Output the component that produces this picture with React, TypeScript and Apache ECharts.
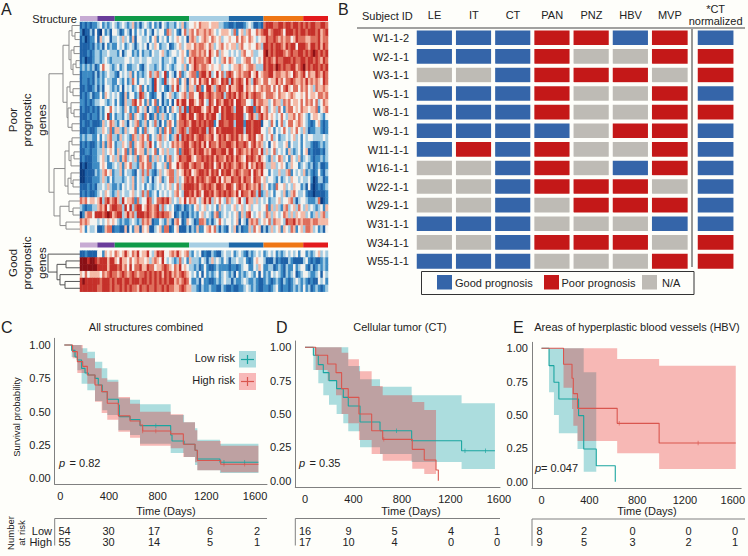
import React, { useEffect, useRef } from "react";
import * as echarts from "echarts";

const FONT = '"Liberation Sans", Arial, sans-serif';
const BG = "#fefefa";

// ---------- Panel A data ----------
const structureNames = ["S1", "S2", "S3", "S4", "S5", "S6", "S7"];
const structureSizes = [7, 7, 30, 16, 14, 16, 10];
const structureColors = ["#c7abd3", "#6a3d9a", "#0f9a48", "#a6cee3", "#1f69a8", "#ef7614", "#e31a1c"];
const heatLevels = ["#0b3a7e", "#1e62a8", "#3d8bc4", "#a2cbe2", "#f4f2ee", "#f4b9a6", "#de6e5c", "#c5302a", "#8a1015"];

const poorGeneRows = [
  "1212122 3423234 323432 352313 432423 143233 243523 4454655545553322 11211123431121 6777667767767767 6767766776",
  "2011314 1042314 431243 142434 243143 442653 421463 5646556565434555 43624535644656 7756777647776767 7677767567",
  "1201224 1534413 343534 251443 342452 434243 454341 5653456546545344 54464654654345 5766765656645766 6556667566",
  "1111213 2314232 243423 431343 414354 233412 345345 5465665465345645 45535644544653 7767677657677477 7657767576",
  "1112123 3233433 324134 423242 332433 453234 434542 5665656475463544 34343564453344 7867677765676677 6767876767",
  "1201123 3234323 333344 343343 344333 423343 244534 6576665674343564 65433456643454 7676576677767667 7677676576",
  "2323231 2464432 342342 233421 343323 423432 344352 4576566545445344 34556545665333 7677687676677567 8676776767",
  "1222213 1323433 214343 524232 346356 347243 146234 5662677573474636 76456566745745 6677566556547656 7465576576",
  "1221213 2324332 243242 364244 343174 327345 462451 5464756747654767 37567647537654 6645575646676556 5756565476",
  "1121123 1314432 324143 423462 423174 342136 473452 5537624775367664 75567746546456 5664646467546646 5645365565",
  "1212312 2425434 342152 442376 342124 413453 234563 6644775676566736 76757657567665 4666546554565445 4645546656",
  "2212123 3443234 242153 367464 252462 413241 475774 7754674376476577 67477664437566 5534655365645546 4656463465",
  "1211212 1324464 343254 232643 514326 231425 436372 7677754675774767 76377746772674 5634536425664546 5545562456",
  "1112122 1324724 233243 625432 641252 353243 246775 7746775767743767 77677734675367 5645434643556465 4324554324",
  "1211211 1253465 324531 435623 524363 142564 256676 5776767677247766 77377727767771 4436424634664565 4321245212",
  "1112112 3354362 553253 446242 634432 526462 356763 6777677376476777 77677737767774 4354243464354643 5312233212",
  "2323322 4243563 325343 265356 462435 635423 573767 6756776567457675 67675645767456 4346342334345342 4344333343",
  "1212112 3252564 233543 625456 357424 534346 565677 5676757476657667 76576676467565 3414543345243342 4332112323",
  "1122122 3353454 253462 526455 253462 453533 462677 6576775657766775 77467656576647 3534634342532342 4512111213",
  "1211122 3453245 352563 435265 462535 342563 457667 7546676767576657 67576547676575 4325346534254352 3432122323",
  "0101122 2454223 435254 633256 466324 435264 475677 5676657767467576 76567657465767 5335534542354423 4323123112",
  "0011113 2356452 335243 321436 363213 534566 354576 7456776757674767 75676566747657 4424335335624343 5232124213",
  "0011122 2353242 333234 352435 324134 523466 353467 6757676567757465 57667576647664 5344324234354434 3342013312",
  "1112121 3343532 232434 352434 243234 343453 463577 7767567676577657 76467657656573 5423264453435442 3141012123",
  "1212112 3435432 353433 453436 362342 434343 564377 6757647767567676 76574766576372 3534244352356433 4211011112",
  "6564554 5736756 753745 562634 476346 676753 435474 6564357573546436 53457437553534 3423345344563134 4322236012",
  "3212233 5657467 766374 736774 576567 363434 212312 3245345343425343 34534534534434 4625353256345364 3534323425",
  "0256647 7767875 677357 563777 676567 676654 123121 3232453432562343 43452536743454 3653543465353545 5342353563",
  "6565444 3434545 432322 343236 565122 432531 564125 4312665231346434 43451431565634 5463655437667565 6665665555",
  "5424334 1125661 221151 425515 451134 526612 451113 1325224564631321 43513122536451 3135345254365245 3665342314",
];
const goodGeneRows = [
  "1121111 4425454 654575 465745 574357 674456 575456 3243412113211343 34234321323434 2343423234343424 4232345343",
  "8887887 6777577 547554 645655 453565 474343 236342 5333243135343243 13343342124544 3111312111321111 3421211232",
  "8888888 7777577 767564 746675 576645 567654 657454 3323124211232222 12212344224354 2233123213224234 4213123232",
  "5464555 5465676 656765 676566 767676 757675 656765 4342414232342343 23142323432414 2324343213234123 4432234143",
  "7877777 7677767 677677 677767 767676 767677 565676 4223142211232343 31322343223211 2321232132123432 3212114342",
  "7777777 6677767 667676 766576 676676 676766 556765 5332132232211321 12112234323211 2212342122123232 4231232123",
];
type Tree = number | [number, Tree, Tree];
const poorTree: Tree = [31,
  [17,
    [11, [8, 0, [5, 1, 2]], [9, [6, 3, 4], [7, [4, 5, 6], 7]]],
    [13, [10, 8, [7, 9, 10]], [12, [9, 11, [6, 12, 13]], [8, 14, 15]]]],
  [26,
    [15, [11, [8, 16, 17], [9, [6, 18, 19], 20]], [12, [9, 21, [7, 22, 23]], 24]],
    [20, [11, 25, [7, 26, 27]], [14, 28, 29]]]];
const goodTree: Tree = [32, 0, [23, [14, 1, 2], [20, 3, [15, 4, 5]]]];

// ---------- Panel B data ----------
const subjects = ["W1-1-2", "W2-1-1", "W3-1-1", "W5-1-1", "W8-1-1", "W9-1-1", "W11-1-1", "W16-1-1", "W22-1-1", "W29-1-1", "W31-1-1", "W34-1-1", "W55-1-1"];
const regions = ["LE", "IT", "CT", "PAN", "PNZ", "HBV", "MVP"];
const normLabel = "*CT\nnormalized";
// G good, P poor, N not available
const regionCalls = ["GGGPPGP", "GGGPNNP", "NNGPPPN", "GGGPNNP", "GGGPNNP", "GGGGNPP", "GPGPNNP", "NNGPNGP", "NNGPPPN", "NNGNPPP", "GGGNNNG", "NNGPPPN", "GGGNNNP"];
const normCalls = ["G", "P", "P", "G", "P", "G", "G", "G", "G", "G", "G", "P", "P"];
const callColors = ["#3565a9", "#c41818", "#bebbb5"];

// ---------- Survival data: [day, survival] and [from day, lower, upper] ----------
const cLow = [[33, 1], [93, 0.96], [121, 0.91], [140, 0.888], [175, 0.825], [203, 0.79], [230, 0.775], [285, 0.75], [312, 0.7], [345, 0.65], [386, 0.593], [477, 0.55], [485, 0.463], [573, 0.44], [655, 0.395], [907, 0.325], [918, 0.28], [1017, 0.255], [1107, 0.21], [1126, 0.145], [1312, 0.12], [1628, 0.12]];
const cHigh = [[33, 1], [101, 0.95], [140, 0.875], [184, 0.84], [222, 0.775], [285, 0.7], [340, 0.65], [386, 0.563], [477, 0.468], [573, 0.43], [655, 0.4], [677, 0.355], [907, 0.333], [1011, 0.255], [1107, 0.21], [1126, 0.133], [1318, 0.105], [1628, 0.105]];
const cLowBand = [[93, 0.91, 1], [140, 0.81, 1], [175, 0.71, 0.975], [222, 0.66, 0.95], [285, 0.58, 0.875], [345, 0.51, 0.825], [386, 0.475, 0.74], [477, 0.36, 0.6], [573, 0.325, 0.59], [655, 0.26, 0.555], [907, 0.19, 0.475], [1017, 0.16, 0.42], [1107, 0.1, 0.375], [1126, 0.06, 0.29], [1312, 0.04, 0.26], [1628, 0.04, 0.26]];
const cHighBand = [[101, 0.9, 1], [140, 0.79, 1], [184, 0.79, 0.94], [222, 0.71, 0.9], [285, 0.575, 0.825], [340, 0.49, 0.75], [386, 0.44, 0.725], [477, 0.35, 0.61], [573, 0.305, 0.56], [655, 0.245, 0.5], [907, 0.225, 0.48], [1011, 0.16, 0.42], [1107, 0.12, 0.36], [1126, 0.06, 0.28], [1318, 0.045, 0.245], [1628, 0.045, 0.245]];
const cLowCensor = [[785, 0.395], [1345, 0.12], [1515, 0.12]];
const cHighCensor = [[677, 0.355], [785, 0.355], [1345, 0.105], [1515, 0.105]];

const dLow = [[0, 1], [69, 0.94], [110, 0.87], [151, 0.81], [198, 0.75], [261, 0.69], [316, 0.625], [357, 0.56], [454, 0.44], [619, 0.375], [880, 0.3], [1292, 0.225], [1567, 0.225]];
const dHigh = [[0, 1], [88, 0.94], [187, 0.875], [256, 0.81], [302, 0.69], [357, 0.625], [445, 0.5], [550, 0.375], [641, 0.31], [885, 0.235], [984, 0.155], [1081, 0.08], [1100, 0]];
const dLowBand = [[69, 0.83, 1], [110, 0.73, 1], [151, 0.64, 1], [198, 0.57, 1], [261, 0.5, 1], [316, 0.43, 1], [357, 0.37, 0.86], [454, 0.25, 0.76], [619, 0.2, 0.705], [880, 0.14, 0.64], [1292, 0.0875, 0.58], [1567, 0.0875, 0.58]];
const dHighBand = [[88, 0.83, 1], [187, 0.75, 1], [256, 0.64, 1], [302, 0.5, 0.96], [357, 0.43, 0.91], [445, 0.305, 0.82], [550, 0.2, 0.71], [641, 0.15, 0.64], [885, 0.09, 0.59], [984, 0.05, 0.53], [1081, 0.05, 0.53]];
const dLowCensor = [[755, 0.375], [1320, 0.225], [1490, 0.225]];
const dHighCensor = [[650, 0.31]];

const eLow = [[0, 1], [63, 0.87], [104, 0.745], [145, 0.62], [310, 0.495], [353, 0.245], [458, 0.12], [617, 0]];
const eHigh = [[0, 1], [184, 0.88], [255, 0.775], [266, 0.66], [301, 0.55], [633, 0.4375], [984, 0.29], [1625, 0.29]];
const eLowBand = [[63, 0.67, 1], [104, 0.5, 1], [145, 0.3625, 1], [301, 0.245, 1], [353, 0.075, 0.82], [458, 0.075, 0.82]];
const eHighBand = [[184, 0.705, 1], [255, 0.545, 1], [266, 0.42, 1], [301, 0.305, 1], [633, 0.2125, 0.92], [984, 0.095, 0.87], [1625, 0.095, 0.87]];
const eHighCensor = [[650, 0.4375], [1310, 0.29]];

const timeTicks = [0, 400, 800, 1200, 1600];
const survTicks = [0, 0.25, 0.5, 0.75, 1];
const riskC = [[54, 30, 17, 6, 2], [55, 30, 14, 5, 1]];
const riskD = [[16, 9, 5, 4, 1], [17, 10, 4, 0, 0]];
const riskE = [[8, 2, 0, 0, 0], [9, 5, 3, 2, 1]];

const LOW_LINE = "#1aa5a0";
const HIGH_LINE = "#d9564f";
const LOW_FILL = "rgba(20,160,170,0.35)";
const HIGH_FILL = "rgba(231,24,24,0.3)";

function cellsFrom(rows: string[]) {
  const out: number[][] = [];
  rows.forEach((r, y) => {
    const s = r.replace(/ /g, "");
    for (let x = 0; x < 100; x++) out.push([x, y, Number(s[x] ?? 4)]);
  });
  return out;
}
function treeSegments(tree: Tree) {
  const pts: (number[])[] = [];
  const walk = (n: Tree): [number, number] => {
    if (typeof n === "number") return [0, n + 0.5];
    const [h, a, b] = n;
    const ca = walk(a), cb = walk(b);
    pts.push([ca[0], ca[1]], [h, ca[1]], [h, cb[1]], [cb[0], cb[1]], [NaN, NaN]);
    return [h, (ca[1] + cb[1]) / 2];
  };
  walk(tree);
  return pts;
}
const catOf: Record<string, number> = { G: 0, P: 1, N: 2 };

export default function App() {
  const ref = useRef<HTMLDivElement>(null);
  useEffect(() => {
    document.body.style.margin = "0";
    document.body.style.background = BG;
    const chart = echarts.init(ref.current!, undefined, { renderer: "svg" });

    const grids: any[] = [], xAxes: any[] = [], yAxes: any[] = [], series: any[] = [];
    const hiddenAxis = { show: false };
    const addGrid = (l: number, t: number, w: number, h: number, x: any, y: any) => {
      grids.push({ left: l, top: t, width: w, height: h, containLabel: false });
      xAxes.push({ gridIndex: grids.length - 1, ...x });
      yAxes.push({ gridIndex: grids.length - 1, ...y });
      return grids.length - 1;
    };

    // --- panel A ---
    const colCats = Array.from({ length: 100 }, (_, i) => String(i));
    const addHeat = (top: number, height: number, rows: string[]) => {
      const g = addGrid(80, top, 248, height,
        { type: "category", data: colCats, ...hiddenAxis },
        { type: "category", data: rows.map((_, i) => String(i)), inverse: true, ...hiddenAxis });
      series.push({ type: "heatmap", xAxisIndex: g, yAxisIndex: g, data: cellsFrom(rows), silent: true, progressive: 0 });
      return series.length - 1;
    };
    const addStructure = (top: number) => {
      const g = addGrid(80, top, 248, 5,
        { type: "value", min: 0, max: 100, ...hiddenAxis },
        { type: "category", data: ["s"], ...hiddenAxis });
      structureSizes.forEach((v, i) => series.push({
        type: "bar", name: structureNames[i], stack: "st" + g, xAxisIndex: g, yAxisIndex: g,
        data: [v], barWidth: 5, itemStyle: { color: structureColors[i] }, silent: true,
      }));
    };
    const addTree = (top: number, height: number, rowCount: number, tree: Tree, color: string) => {
      const g = addGrid(40, top, 40, height,
        { type: "value", min: 0, max: 40, inverse: true, ...hiddenAxis },
        { type: "value", min: 0, max: rowCount, inverse: true, ...hiddenAxis });
      series.push({
        type: "line", xAxisIndex: g, yAxisIndex: g, data: treeSegments(tree), showSymbol: false, silent: true,
        connectNulls: false, lineStyle: { color, width: 1 },
      });
    };
    addStructure(16);
    const h1 = addHeat(22, 210.6, poorGeneRows);
    addTree(22, 210.6, poorGeneRows.length, poorTree, "#8c8c8c");
    addStructure(242.5);
    const h2 = addHeat(250.7, 41, goodGeneRows);
    addTree(250.7, 41, goodGeneRows.length, goodTree, "#555555");

    // --- panel B ---
    const addCalls = (l: number, w: number, cols: string[], calls: string[], labelRows: boolean, fontLine: number, topMargin: number) => {
      const g = addGrid(l, 28.7, w, 241.8,
        { type: "category", data: cols, position: "top", axisLine: { show: false }, axisTick: { show: false },
          axisLabel: { color: "#222", fontSize: 11, fontFamily: FONT, margin: topMargin, lineHeight: fontLine, interval: 0 } },
        { type: "category", data: subjects, inverse: true, axisLine: { show: false }, axisTick: { show: false },
          axisLabel: { show: labelRows, color: "#222", fontSize: 11, fontFamily: FONT, margin: 6, interval: 0 } });
      const data: number[][] = [];
      calls.forEach((row, y) => row.split("").forEach((c, x) => data.push([x, y, catOf[c]])));
      series.push({ type: "heatmap", xAxisIndex: g, yAxisIndex: g, data, silent: true,
        itemStyle: { borderColor: BG, borderWidth: 4 } });
      return series.length - 1;
    };
    const b1 = addCalls(415, 274.4, regions, regionCalls, true, 13, 7);
    const b2 = addCalls(696, 39.2, [normLabel], normCalls, false, 11.5, 2);

    // --- survival panels ---
    const addKM = (p: any) => {
      const g = addGrid(p.left, p.top, p.right - p.left, p.bottom - p.top,
        { type: "value", min: p.xMin, max: p.xMax, splitLine: { show: false },
          axisLine: { onZero: false, lineStyle: { color: "#808080" } },
          axisTick: { show: false, customValues: timeTicks },
          axisLabel: { customValues: timeTicks, color: "#222", fontSize: 11, fontFamily: FONT, margin: 6, hideOverlap: false,
            formatter: (v: number) => String(v) } },
        { type: "value", min: p.yMin, max: p.yMax, splitLine: { show: false },
          axisLine: { show: true, onZero: false, lineStyle: { color: "#808080" } },
          axisTick: { show: false, customValues: survTicks },
          axisLabel: { customValues: survTicks, color: "#222", fontSize: 11, fontFamily: FONT, margin: 4,
            formatter: (v: number) => v.toFixed(2) } });
      const band = (rows: number[][], fill: string) => series.push({
        type: "custom", coordinateSystem: "cartesian2d", xAxisIndex: g, yAxisIndex: g, silent: true, data: [[0, 0]],
        renderItem: (_: any, api: any) => {
          const up: number[][] = [], lo: number[][] = [];
          for (let i = 0; i < rows.length - 1; i++) {
            up.push(api.coord([rows[i][0], rows[i][2]]), api.coord([rows[i + 1][0], rows[i][2]]));
            lo.push(api.coord([rows[i][0], rows[i][1]]), api.coord([rows[i + 1][0], rows[i][1]]));
          }
          return { type: "polygon", shape: { points: up.concat(lo.reverse()) }, style: { fill } };
        },
      });
      const curve = (d: number[][], color: string) => series.push({
        type: "line", step: "end", xAxisIndex: g, yAxisIndex: g, data: d, showSymbol: false, silent: true,
        lineStyle: { color, width: 1.1 },
      });
      const marks = (d: number[][], color: string) => d.length && series.push({
        type: "scatter", xAxisIndex: g, yAxisIndex: g, data: d, symbol: "rect", symbolSize: [0.8, 4.5], silent: true,
        itemStyle: { color },
      });
      band(p.lowBand, LOW_FILL); curve(p.low, LOW_LINE); marks(p.lowCensor, LOW_LINE);
      band(p.highBand, HIGH_FILL); curve(p.high, HIGH_LINE); marks(p.highCensor, HIGH_LINE);
    };
    const yRange = (one: number, zero: number, top: number, bottom: number) => {
      const perUnit = zero - one;
      return { yMax: 1 + (one - top) / perUnit, yMin: -(bottom - zero) / perUnit };
    };
    const xRange = (x0: number, k: number, l: number, r: number) => ({ xMin: (l - x0) / k, xMax: (r - x0) / k });
    addKM({ left: 54.7, right: 267, top: 338.3, bottom: 484.3, ...xRange(60.3, 0.1217, 54.7, 267), ...yRange(345, 478.3, 338.3, 484.3),
      low: cLow, high: cHigh, lowBand: cLowBand, highBand: cHighBand, lowCensor: cLowCensor, highCensor: cHighCensor });
    addKM({ left: 295.3, right: 500, top: 341, bottom: 487.3, ...xRange(305, 0.1212, 295.3, 500), ...yRange(347.3, 480.7, 341, 487.3),
      low: dLow, high: dHigh, lowBand: dLowBand, highBand: dHighBand, lowCensor: dLowCensor, highCensor: dHighCensor });
    addKM({ left: 532, right: 745, top: 342.3, bottom: 488, ...xRange(541.7, 0.1217, 532, 745), ...yRange(348.3, 481.7, 342.3, 488),
      low: eLow, high: eHigh, lowBand: eLowBand, highBand: eHighBand, lowCensor: [], highCensor: eHighCensor });

    // --- annotations ---
    const g: any[] = [];
    const txt = (x: number, y: number, text: string, o: any = {}) => g.push({
      type: "text", x, y, rotation: o.rotation ?? 0, silent: true, z: 20,
      style: { text, fontSize: o.size ?? 11, fontFamily: FONT, fontStyle: o.italic ? "italic" : "normal", fill: o.fill ?? "#222",
        align: o.align ?? "left", verticalAlign: "middle", lineHeight: o.lh },
    });
    const line = (x1: number, y1: number, x2: number, y2: number, stroke: string, lineWidth = 1) => g.push({
      type: "line", silent: true, z: 20, shape: { x1, y1, x2, y2 }, style: { stroke, lineWidth },
    });
    const box = (x: number, y: number, width: number, height: number, fill: string, stroke?: string) => g.push({
      type: "rect", silent: true, z: 19, shape: { x, y, width, height }, style: { fill, stroke, lineWidth: 1 },
    });
    txt(1, 9, "A", { size: 16 }); txt(338, 9, "B", { size: 16 }); txt(1, 327, "C", { size: 16 });
    txt(276, 327, "D", { size: 16 }); txt(513, 327, "E", { size: 16 });
    txt(77, 19, "Structure", { align: "right" });
    txt(27, 120, "Poor\nprognostic\ngenes", { size: 11.5, lh: 14.5, rotation: Math.PI / 2, align: "center" });
    txt(27, 263, "Good\nprognostic\ngenes", { size: 11.5, lh: 14.5, rotation: Math.PI / 2, align: "center" });
    txt(362, 16, "Subject ID");
    line(357, 28, 745, 28, "#444"); line(692, 29, 692, 267, "#555", 1.2);
    box(421.5, 271.5, 272.5, 23, "none", "#333");
    box(437, 275, 15, 14.5, callColors[0]); txt(455, 282.5, "Good prognosis");
    box(544, 275, 15, 14.5, callColors[1]); txt(561.5, 282.5, "Poor prognosis");
    box(642, 275, 15, 14.5, callColors[2]); txt(662, 282.5, "N/A");

    txt(146, 327, "All structures combined", { align: "center" });
    txt(400, 327, "Cellular tumor (CT)", { align: "center" });
    txt(637, 327, "Areas of hyperplastic blood vessels (HBV)", { align: "center" });
    txt(166, 511, "Time (Days)", { align: "center" });
    txt(411, 511, "Time (Days)", { align: "center" });
    txt(647, 511, "Time (Days)", { align: "center" });
    txt(16, 417, "Survival probability", { size: 9.5, rotation: Math.PI / 2, align: "center" });
    txt(235, 358, "Low risk", { align: "right" });
    txt(235, 380, "High risk", { align: "right" });
    box(239, 351, 17, 16.5, "#a9dbde"); line(241, 359.5, 254, 359.5, LOW_LINE, 1.2); line(247.5, 355, 247.5, 364, LOW_LINE, 1.2);
    box(239, 373, 17, 17, "#f8b9b9"); line(241, 381.5, 254, 381.5, HIGH_LINE, 1.2); line(247.5, 377, 247.5, 386, HIGH_LINE, 1.2);
    txt(59, 463, "p", { italic: true }); txt(66.5, 463, " = 0.82");
    txt(299, 463, "p", { italic: true }); txt(306.5, 463, " = 0.35");
    txt(535, 468, "p", { italic: true }); txt(541, 468, "= 0.047", {});

    const table = (axisX: number, rightX: number, topY: number, colX: number[], rows: number[][]) => {
      line(axisX, topY, rightX, topY, "#808080");
      line(axisX, topY, axisX, topY + 27, "#808080");
      rows.forEach((r, i) => r.forEach((v, j) => txt(colX[j], 530.5 + i * 11.3, String(v), { align: "center" })));
    };
    table(54.7, 267, 518.5, [64.5, 108.5, 154, 210, 257], riskC);
    table(295.3, 500, 518.5, [305, 348.5, 394.5, 451, 497], riskD);
    table(532, 745, 519, [539.5, 584, 632.5, 688.5, 735], riskE);
    txt(15.5, 533, "Number\nat risk", { size: 9.5, lh: 11, rotation: Math.PI / 2, align: "center" });
    txt(52, 530.5, "Low", { align: "right" });
    txt(52, 541.8, "High", { align: "right" });

    chart.setOption({
      animation: false,
      backgroundColor: BG,
      textStyle: { fontFamily: FONT },
      grid: grids, xAxis: xAxes, yAxis: yAxes,
      visualMap: [
        { show: false, type: "continuous", min: 0, max: 8, seriesIndex: [h1, h2], inRange: { color: heatLevels } },
        { show: false, type: "piecewise", seriesIndex: [b1, b2],
          pieces: [{ value: 0, color: callColors[0] }, { value: 1, color: callColors[1] }, { value: 2, color: callColors[2] }] },
      ],
      series,
      graphic: g,
    });
    return () => chart.dispose();
  }, []);
  return <div ref={ref} style={{ width: 748, height: 556 }} />;
}
